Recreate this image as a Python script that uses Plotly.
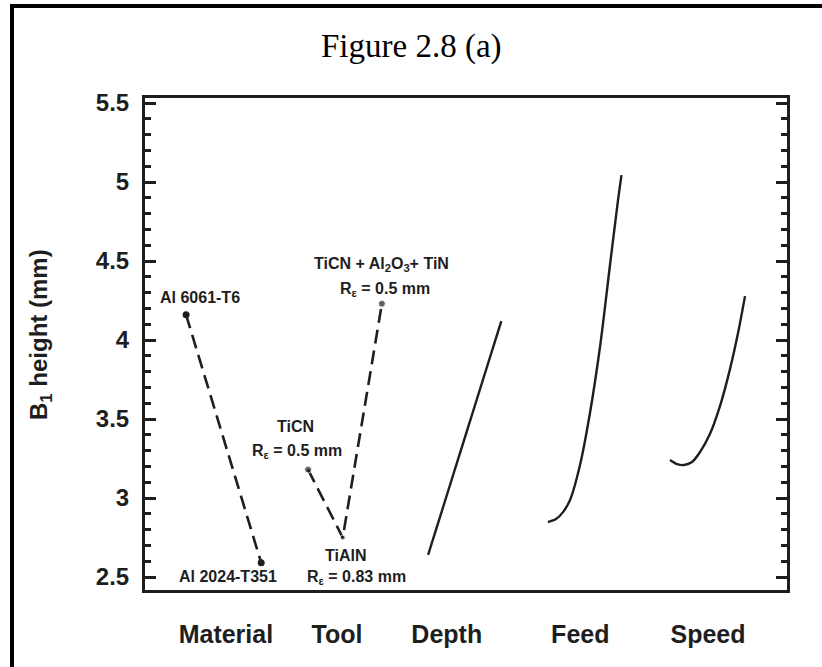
import plotly.graph_objects as go

# ---- data (x on a 0-100 positional scale, y = B1 height in mm) ----
material_x = [6.4, 18.1]
material_y = [4.16, 2.59]
material_labels = ["Al 6061-T6", "Al 2024-T351"]

tool_x = [25.4, 30.8, 36.9]
tool_y = [3.18, 2.75, 4.23]
tool_names = ["TiCN", "TiAlN", "TiCN + Al<sub>2</sub>O<sub>3</sub>+ TiN"]
tool_radii = ["R<sub>ε</sub> = 0.5 mm", "R<sub>ε</sub> = 0.83 mm", "R<sub>ε</sub> = 0.5 mm"]

depth_x = [44.1, 55.5]
depth_y = [2.64, 4.12]

feed_x = [62.77, 64.02, 65.11, 66.20, 67.76, 69.31, 70.87, 72.43, 73.68, 74.22]
feed_y = [2.848, 2.867, 2.911, 2.987, 3.209, 3.538, 3.956, 4.475, 4.886, 5.044]

speed_x = [81.78, 82.87, 83.96, 85.20, 86.45, 87.99, 89.56, 91.12, 92.37, 93.46]
speed_y = [3.241, 3.215, 3.209, 3.228, 3.291, 3.405, 3.582, 3.816, 4.044, 4.278]

factor_names = ["Material", "Tool", "Depth", "Feed", "Speed"]
factor_pos = [12.6, 29.9, 47.0, 67.8, 87.7]

y_ticks = [2.5, 3, 3.5, 4, 4.5, 5, 5.5]
y_ticktext = ["2.5", "3", "3.5", "4", "4.5", "5", "5.5"]

# ---- style / layout constants ----
FONT = "Liberation Sans, Arial, sans-serif"
INK = "#1e1e1e"
W, H = 822, 667
L, T = 145, 98
R = W - 787
B = H - 590
PW, PH = W - L - R, H - T - B

def px_x(p):
    return (p - L) / PW

def px_y(p):
    return (H - B - p) / PH

fig = go.Figure()
dash_line = dict(color=INK, width=2.6, dash="14px,7px")
fig.add_trace(go.Scatter(x=material_x, y=material_y, mode="lines+markers",
                         line=dash_line, marker=dict(size=7, color=INK)))
fig.add_trace(go.Scatter(x=tool_x, y=tool_y, mode="lines+markers",
                         line=dash_line, marker=dict(size=[7, 5, 7], color=INK)))
solid = dict(color=INK, width=2.4, shape="spline", smoothing=0.9)
fig.add_trace(go.Scatter(x=depth_x, y=depth_y, mode="lines", line=solid))
fig.add_trace(go.Scatter(x=feed_x, y=feed_y, mode="lines", line=solid))
fig.add_trace(go.Scatter(x=speed_x, y=speed_y, mode="lines", line=solid))

small = dict(family=FONT, size=16, color=INK, weight="bold")
annots = []
# point labels, placed with pixel offsets from their data points
mat_shift = [(14, 17), (-33, -14)]
for x, y, t, (dx, dy) in zip(material_x, material_y, material_labels, mat_shift):
    annots.append(dict(x=x, y=y, text=t, showarrow=False, xshift=dx, yshift=dy,
                       font=small, xanchor="center", yanchor="middle"))
name_shift = [(-13, 43), (3, -18), (0, 39)]
radius_shift = [(-11, 18), (14, -40), (3, 14)]
for x, y, n, r, (nx, ny), (rx, ry) in zip(tool_x, tool_y, tool_names, tool_radii, name_shift, radius_shift):
    annots.append(dict(x=x, y=y, text=n, showarrow=False, xshift=nx, yshift=ny,
                       font=small, xanchor="center", yanchor="middle"))
    annots.append(dict(x=x, y=y, text=r, showarrow=False, xshift=rx, yshift=ry,
                       font=small, xanchor="center", yanchor="middle"))

annots.append(dict(text="Figure 2.8 (a)", xref="paper", yref="paper", x=px_x(411), y=px_y(47),
                   showarrow=False, xanchor="center", yanchor="middle",
                   font=dict(family="Liberation Serif, Times New Roman, serif", size=33, color="black")))
annots.append(dict(text="B<sub>1</sub> height (mm)", xref="paper", yref="paper", x=px_x(40), y=px_y(335),
                   showarrow=False, xanchor="center", yanchor="middle", textangle=-90,
                   font=dict(family=FONT, size=24, color=INK, weight="bold")))

fig.update_layout(
    width=W, height=H,
    margin=dict(l=L, r=R, t=T, b=B),
    paper_bgcolor="white", plot_bgcolor="white",
    showlegend=False,
    annotations=annots,
    xaxis=dict(range=[0, 100], showgrid=False, zeroline=False, automargin=False,
               showline=True, linecolor=INK, linewidth=3, mirror=True,
               tickmode="array", tickvals=factor_pos, ticktext=factor_names,
               ticks="", ticklabelstandoff=20,
               tickfont=dict(family=FONT, size=25, color=INK, weight="bold")),
    yaxis=dict(range=[2.418, 5.532], showgrid=False, zeroline=False, automargin=False,
               showline=True, linecolor=INK, linewidth=3, mirror="ticks",
               tickmode="array", tickvals=y_ticks, ticktext=y_ticktext,
               ticks="inside", ticklen=11, tickwidth=3, tickcolor=INK,
               minor=dict(dtick=0.1, tick0=2.5, ticks="inside", ticklen=6, tickwidth=3, tickcolor=INK),
               ticklabelstandoff=8,
               tickfont=dict(family=FONT, size=24, color=INK, weight="bold")),
    shapes=[
        dict(type="rect", xref="paper", yref="paper", x0=px_x(10), x1=px_x(830),
             y0=px_y(8), y1=px_y(4), fillcolor="black", line=dict(width=0), layer="above"),
        dict(type="rect", xref="paper", yref="paper", x0=px_x(10), x1=px_x(14),
             y0=px_y(680), y1=px_y(4), fillcolor="black", line=dict(width=0), layer="above"),
    ],
)

fig.write_html("out.html", config={"displayModeBar": False},
               post_script="document.body.style.margin='0px';")
